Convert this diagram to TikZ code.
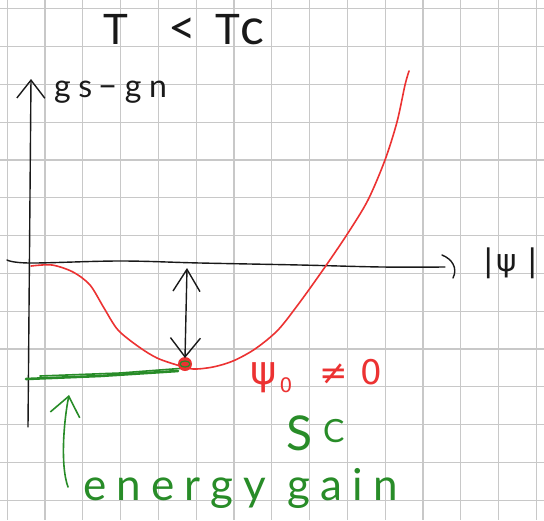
\documentclass[tikz,border=0pt]{standalone}
\usepackage{fontspec}
\setmainfont{Lato}
\newfontfamily\dv{DejaVu Sans}
\usetikzlibrary{arrows.meta}
\definecolor{gridc}{RGB}{200,200,200}
\definecolor{penred}{RGB}{236,50,50}
\definecolor{pengreen}{RGB}{40,140,40}
\definecolor{penblack}{RGB}{25,25,25}
\begin{document}
\begin{tikzpicture}[x=1pt,y=-1pt,
  gridline/.style={gridc,line width=1.2pt},
  blackpen/.style={penblack,line width=1.4pt,line cap=round,line join=round},
  redpen/.style={penred,line width=1.6pt,line cap=round,line join=round},
  greenpen/.style={pengreen,line width=1.6pt,line cap=round,line join=round},
  lbl/.style={inner sep=0pt,anchor=base west}]
\useasboundingbox (0,0) rectangle (544,520);
\fill[white] (0,0) rectangle (544,520);
% grid paper
\foreach \i in {0,...,14} \draw[gridline] (7.1+37.8*\i,0) -- (7.1+37.8*\i,520);
\foreach \j in {0,...,13} \draw[gridline] (0,8.7+37.8*\j) -- (544,8.7+37.8*\j);
% title
\node[lbl,penblack] (title) at (103,44) {\fontsize{42}{42}\selectfont T\hspace{40pt}{\fontsize{48}{48}\selectfont <}\hspace{20pt}T{\fontsize{50}{50}\selectfont c}};
% y axis
\coordinate (ybot) at (28,427);
\coordinate (ytop) at (31,79);
\draw[blackpen,-{Straight Barb[length=18pt,width=28pt]}] (ybot) -- (ytop);
\node[lbl,penblack] (ylab) at (54,97) {\fontsize{32}{32}\selectfont\addfontfeature{LetterSpace=24}gs\hspace{6pt}−\hspace{8pt}gn};
% x axis
\coordinate (xstart) at (7,260);
\coordinate (xend) at (445,267);
\draw[blackpen] plot[smooth,tension=0.6] coordinates {(xstart) (30,263) (120,261) (200,263) (300,265) (382,267) (xend)};
\draw[blackpen] (442,255) .. controls (452,259) and (458,268) .. (453,278);
\node[lbl,penblack] (xlab) at (483,271) {\fontsize{31}{31}\selectfont\dv |\hspace{3pt}ψ\hspace{10pt}|};
% free energy curve
\draw[redpen] plot[smooth] coordinates {(31,266) (52,265) (73,272) (90,285) (104,308) (118,330) (139,347) (157,358) (177,365) (193,369) (213,367) (233,361) (255,349) (278,330) (300,302) (325,267) (348,233) (368,200) (385,160) (397,122) (405,85) (409,71)};
% green energy level line
\draw[greenpen,line width=2.6pt] (26,379) -- (100,376) -- (178,371);
\draw[greenpen] (40,376) -- (120,373) -- (186,368);
% minimum point
\node[circle,fill=penred,minimum size=14pt,inner sep=0pt] (dot) at (185,364) {};
\draw[greenpen,line width=1.2pt] (dot.center) ellipse (5pt and 3pt);
% double arrow
\coordinate (dtop) at (187,268);
\coordinate (dbot) at (185,358);
\draw[blackpen,{Straight Barb[length=22pt,width=27pt]}-{Straight Barb[length=19pt,width=30pt]}] (dtop) -- (dbot);
% labels
\node[lbl,penred] (psi) at (250,384) {\dv\fontsize{40}{40}\selectfont ψ\hspace{3pt}\raisebox{-8pt}{\fontsize{20}{20}\selectfont 0}\hspace{27pt}{\fontsize{34}{34}\selectfont ≠\hspace{13pt}0}};
\node[lbl,pengreen] (sc) at (286,450) {\fontsize{48}{48}\selectfont S\hspace{11pt}\raisebox{8pt}{\fontsize{32}{32}\selectfont C}};
% energy gain arrow
\coordinate (gbot) at (68,487);
\coordinate (gtop) at (69,395);
\draw[greenpen,-{Straight Barb[length=19pt,width=30pt]}] (gbot) .. controls (60,465) and (64,420) .. (gtop);
\node[lbl,pengreen] (gain) at (83,500) {\fontsize{44}{44}\selectfont\addfontfeature{LetterSpace=23}energy\hspace{22pt}gain};
\end{tikzpicture}
\end{document}
